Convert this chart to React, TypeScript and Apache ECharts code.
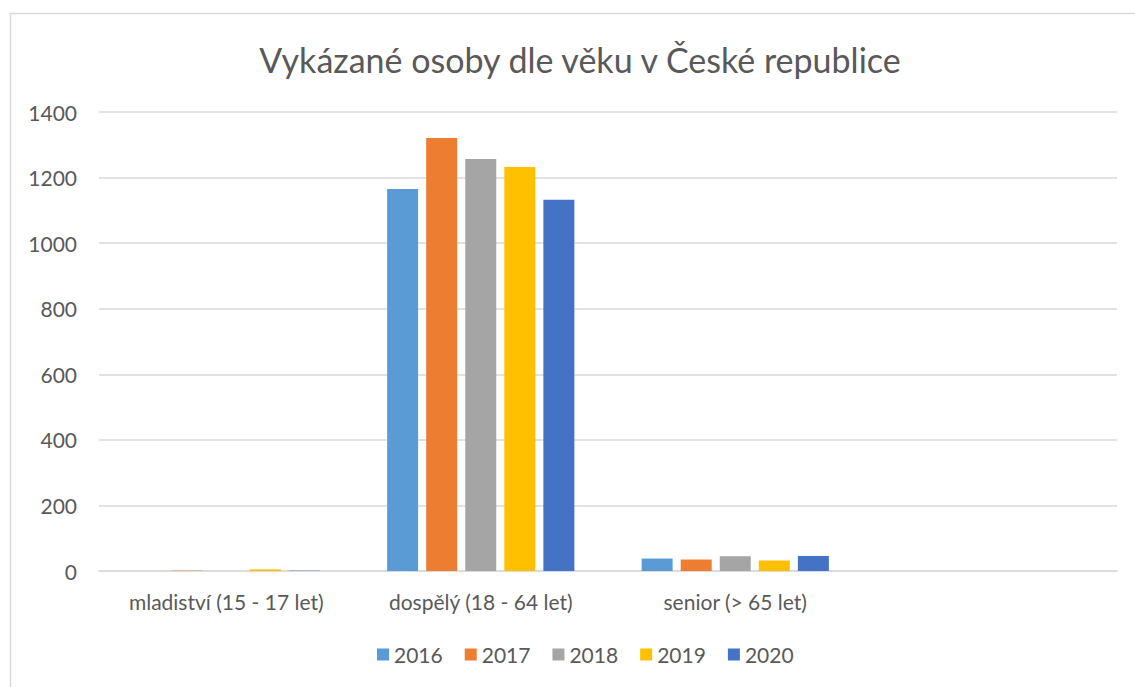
import React, { useEffect, useRef } from "react";
import * as echarts from "echarts";

const categories = ["mladiství (15 - 17 let)", "dospělý (18 - 64 let)", "senior (> 65 let)", ""];
const years = ["2016", "2017", "2018", "2019", "2020"];
const colors = ["#5B9BD5", "#ED7D31", "#A5A5A5", "#FFC000", "#4472C4"];
const values2016 = [0, 1165, 38, null];
const values2017 = [1, 1321, 35, null];
const values2018 = [0, 1257, 45, null];
const values2019 = [5, 1232, 32, null];
const values2020 = [1, 1132, 46, null];
const seriesValues = [values2016, values2017, values2018, values2019, values2020];
const yTicks = { min: 0, max: 1400, interval: 200 };

const FONT = "Lato";

export default function App() {
  const ref = useRef<HTMLDivElement>(null);
  useEffect(() => {
    if (!ref.current) return;
    const chart = echarts.init(ref.current, undefined, { renderer: "svg" });
    chart.setOption({
      animation: false,
      backgroundColor: "#ffffff",
      title: {
        text: "Vykázané osoby dle věku v České republice",
        left: 575,
        textAlign: "center",
        top: 37,
        textStyle: { fontFamily: FONT, fontSize: 34, fontWeight: "normal", color: "#595959" },
      },
      graphic: [
        {
          type: "rect",
          shape: { x: 10.5, y: 13.5, width: 1200, height: 800 },
          style: { fill: "none", stroke: "#D9D9D9", lineWidth: 1.5 },
          silent: true,
        },
      ],
      legend: {
        data: years,
        bottom: 17,
        left: 372,
        itemWidth: 12,
        itemHeight: 12,
        itemGap: 22,
        icon: "rect",
        textStyle: { fontFamily: FONT, fontSize: 21, color: "#595959" },
      },
      grid: { left: 99, right: 18, top: 112, bottom: 116, containLabel: false },
      xAxis: {
        type: "category",
        data: categories,
        axisLine: { show: true, lineStyle: { color: "#D9D9D9", width: 1.5 } },
        axisTick: { show: false },
        axisLabel: { fontFamily: FONT, fontSize: 21, color: "#595959", margin: 20, interval: 0 },
      },
      yAxis: {
        type: "value",
        min: yTicks.min,
        max: yTicks.max,
        interval: yTicks.interval,
        axisLine: { show: false },
        axisTick: { show: false },
        splitLine: { lineStyle: { color: "#D9D9D9", width: 1.5 } },
        axisLabel: {
          fontFamily: FONT,
          fontSize: 21,
          color: "#595959",
          margin: 22,
          formatter: (v: number) => String(v),
        },
      },
      series: years.map((y, i) => ({
        name: y,
        type: "bar",
        data: seriesValues[i],
        barWidth: 31,
        barGap: "26%",
        itemStyle: { color: colors[i] },
      })),
    });
    return () => chart.dispose();
  }, []);
  return (
    <div
      ref={ref}
      style={{ position: "fixed", left: 0, top: 0, width: 1135, height: 687 }}
    />
  );
}
